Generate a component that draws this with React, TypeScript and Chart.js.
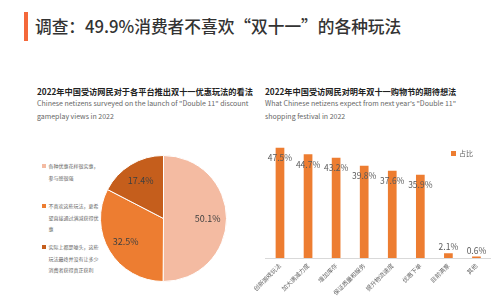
import React, { useEffect, useRef } from "react";
import { Chart, registerables } from "chart.js";
Chart.register(...registerables);

const FONT = '"Noto Sans CJK SC", "Noto Sans", sans-serif';

const titleText = "调查：49.9%消费者不喜欢“双十一”的各种玩法";
const leftTitle = "2022年中国受访网民对于各平台推出双十一优惠玩法的看法";
const leftSub = ['Chinese netizens surveyed on the launch of "Double 11" discount', "gameplay views in 2022"];
const rightTitle = "2022年中国受访网民对明年双十一购物节的期待想法";
const rightSub = ['What Chinese netizens expect from next year\'s "Double 11"', "shopping festival in 2022"];

const pieLabels = [
  "各种优惠花样很实惠，参与感很强",
  "不喜欢这些玩法，更希望直接通过满减获得优惠",
  "实际上都是噱头，这些玩法最终并没有让多少消费者获得真正获利",
];
const pieValues = [50.1, 32.5, 17.4];
const pieColors = ["#F4BBA2", "#ED7D31", "#C55E1C"];

const barCategories = ["创新游戏玩法", "加大满减力度", "增加库存", "保证质量和服务", "提升物流速度", "优惠下单", "目前满意", "其他"];
const barValues = [47.5, 44.7, 43.2, 39.8, 37.6, 35.9, 2.1, 0.6];
const barSeriesName = "占比";
const barColor = "#ED7D31";

const pieLabelPlugin = {
  id: "pieLabels",
  afterDatasetsDraw(chart: any) {
    const ctx = chart.ctx;
    const meta = chart.getDatasetMeta(0);
    ctx.save();
    ctx.font = `9px ${FONT}`;
    ctx.fillStyle = "#404040";
    ctx.textAlign = "center";
    ctx.textBaseline = "middle";
    meta.data.forEach((arc: any, i: number) => {
      const mid = (arc.startAngle + arc.endAngle) / 2;
      const r = arc.outerRadius * 0.7;
      ctx.fillText(pieValues[i].toFixed(1) + "%", arc.x + Math.cos(mid) * r, arc.y + Math.sin(mid) * r);
    });
    ctx.restore();
  },
};

const barLabelPlugin = {
  id: "barLabels",
  afterDatasetsDraw(chart: any) {
    const ctx = chart.ctx;
    const meta = chart.getDatasetMeta(0);
    ctx.save();
    ctx.font = `8.5px ${FONT}`;
    ctx.fillStyle = "#595959";
    ctx.textAlign = "center";
    ctx.textBaseline = "middle";
    meta.data.forEach((bar: any, i: number) => {
      const h = bar.base - bar.y;
      const y = h > 15 ? bar.y + 10 : bar.y - 6;
      ctx.fillText(barValues[i].toFixed(1) + "%", bar.x, y);
    });
    ctx.restore();
  },
};

function PieChart() {
  const ref = useRef<HTMLCanvasElement>(null);
  useEffect(() => {
    const chart = new Chart(ref.current!, {
      type: "pie",
      data: {
        labels: pieLabels,
        datasets: [{ data: pieValues, backgroundColor: pieColors, borderColor: "#ffffff", borderWidth: 1 }],
      },
      options: {
        animation: false,
        responsive: false,
        maintainAspectRatio: false,
        layout: { padding: 0 },
        plugins: { legend: { display: false }, tooltip: { enabled: false } },
      },
      plugins: [pieLabelPlugin],
    });
    return () => chart.destroy();
  }, []);
  return <canvas ref={ref} width={127} height={127} style={{ position: "absolute", left: 100, top: 155, width: 127, height: 127 }} />;
}

function BarChart() {
  const ref = useRef<HTMLCanvasElement>(null);
  useEffect(() => {
    const chart = new Chart(ref.current!, {
      type: "bar",
      data: {
        labels: barCategories,
        datasets: [{ label: barSeriesName, data: barValues, backgroundColor: barColor, barPercentage: 0.31, categoryPercentage: 1 }],
      },
      options: {
        animation: false,
        responsive: false,
        maintainAspectRatio: false,
        layout: { padding: { top: 12, left: 8.5, right: 9.5, bottom: 0 } },
        plugins: { legend: { display: false }, tooltip: { enabled: false } },
        scales: {
          x: {
            grid: { display: false, drawTicks: false },
            border: { display: true, color: "#d9d9d9" },
            ticks: { minRotation: 45, maxRotation: 45, font: { size: 6, family: FONT }, color: "#666", padding: 4, autoSkip: false },
            afterFit: (s: any) => { s.height = 42; },
          },
          y: { display: false, min: 0, max: 50 },
        },
      },
      plugins: [barLabelPlugin],
    });
    return () => chart.destroy();
  }, []);
  return <canvas ref={ref} width={250} height={170} style={{ position: "absolute", left: 250, top: 130, width: 250, height: 170 }} />;
}

export default function App() {
  const sub: React.CSSProperties = { position: "absolute", fontFamily: FONT, fontSize: 7, color: "#666", lineHeight: "13px", whiteSpace: "nowrap" };
  const ttl: React.CSSProperties = { position: "absolute", fontFamily: FONT, fontSize: 8.2, fontWeight: 700, color: "#222", whiteSpace: "nowrap", lineHeight: "10px" };
  return (
    <div style={{ position: "fixed", left: 0, top: 0, width: 500, height: 300, background: "#fff", overflow: "hidden", fontFamily: FONT }}>
      <div style={{ position: "absolute", left: 24, top: 12, width: 4, height: 29, background: "#F4683A" }} />
      <div style={{ position: "absolute", left: 35, top: 14, fontSize: 16.7, fontWeight: 500, color: "#333", lineHeight: "24px", whiteSpace: "nowrap" }}>{titleText}</div>

      <div style={{ ...ttl, left: 37, top: 86 }}>{leftTitle}</div>
      <div style={{ ...sub, left: 37, top: 97 }}>{leftSub[0]}<br />{leftSub[1]}</div>

      <div style={{ ...ttl, left: 265, top: 86 }}>{rightTitle}</div>
      <div style={{ ...sub, left: 265, top: 97 }}>{rightSub[0]}<br />{rightSub[1]}</div>

      {pieLabels.map((t, i) => (
        <div key={i} style={{ position: "absolute", left: 42, top: [160, 200, 241][i], display: "flex", alignItems: "flex-start" }}>
          <div style={{ width: 3.5, height: 3.5, marginTop: 4, background: pieColors[i], flex: "none" }} />
          <div style={{ marginLeft: 3, width: 52, fontSize: 5, lineHeight: "11.5px", color: "#666", wordBreak: "break-all" }}>{t}</div>
        </div>
      ))}

      <PieChart />
      <BarChart />

      <div style={{ position: "absolute", left: 451, top: 149, display: "flex", alignItems: "center" }}>
        <div style={{ width: 5, height: 5, background: barColor }} />
        <div style={{ marginLeft: 3, fontSize: 7, color: "#666", lineHeight: "8px" }}>{barSeriesName}</div>
      </div>
    </div>
  );
}
